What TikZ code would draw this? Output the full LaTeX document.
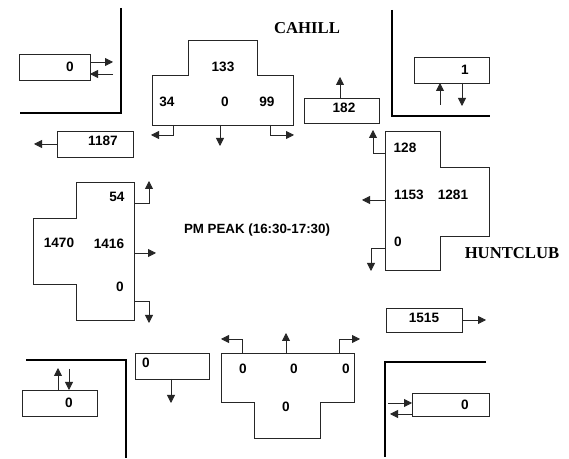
\documentclass[tikz,border=0pt]{standalone}
\usepackage{fontspec}
\setmainfont{Liberation Serif}
\setsansfont{Liberation Sans}
\usetikzlibrary{arrows.meta}
\tikzset{
  thin line/.style={line width=0.6pt, draw=black!85},
  corner/.style={line width=2.2pt, draw=black},
  arr/.style={thin line, -{Triangle[length=6pt,width=6pt]}},
  bx/.style 2 args={draw, thin line, rectangle, inner sep=0pt, outer sep=0pt,
     minimum width=#1*0.75pt, minimum height=#2*0.75pt},
  num/.style={font=\sffamily\bfseries\fontsize{10.2}{12}\selectfont, inner sep=0pt},
  street/.style={font=\rmfamily\bfseries\fontsize{12.5}{14}\selectfont, inner sep=0pt},
  shape line/.style={thin line}
}
\begin{document}
\begin{tikzpicture}[x=0.75pt,y=-0.75pt]
\useasboundingbox (0,0) rectangle (569,459);
\fill[white] (0,0) rectangle (569,459);

% corner curbs
\draw[corner] (121,8) -- (121,113) -- (20,113);
\draw[corner] (392,10) -- (392,116) -- (490,116);
\draw[corner] (26,360) -- (126,360) -- (126,458);
\draw[corner] (486,362) -- (385,362) -- (385,457);

% street labels
\node[street] (cahill) at (307,28) {CAHILL};
\node[street] (huntclub) at (512,253) {HUNTCLUB};
\node[num, font=\sffamily\bfseries\fontsize{10}{12}\selectfont] (peak) at (257,230) {PM PEAK (16:30-17:30)};

% ---- top approach (Cahill southbound)
\draw[shape line] (188,40) -- (257,40) -- (257,75) -- (293,75) -- (293,125) -- (152,125) -- (152,75) -- (188,75) -- cycle;
\node[num] (t133) at (223,67) {133};
\node[num] (t34) at (167,102) {34};
\node[num] (t0) at (225,102) {0};
\node[num] (t99) at (267,102) {99};
\coordinate (tL) at (173,125); \coordinate (tLe) at (151,135);
\coordinate (tC) at (220,125); \coordinate (tCe) at (220,146);
\coordinate (tR) at (270,125); \coordinate (tRe) at (294,135);
\draw[arr] (tL) |- (tLe);
\draw[arr] (tC) -- (tCe);
\draw[arr] (tR) |- (tRe);

% ---- right approach (Huntclub westbound)
\draw[shape line] (385,131) -- (440,131) -- (440,167) -- (489,167) -- (489,236) -- (440,236) -- (440,270) -- (385,270) -- cycle;
\node[num] (r128) at (405,148) {128};
\node[num] (r1153) at (409,195) {1153};
\node[num] (r1281) at (453,195) {1281};
\node[num] (r0) at (398,242) {0};
\coordinate (rT) at (385,153); \coordinate (rTe) at (373,130);
\coordinate (rM) at (385,200); \coordinate (rMe) at (362,200);
\coordinate (rB) at (385,248); \coordinate (rBe) at (371,271);
\draw[arr] (rT) -| (rTe);
\draw[arr] (rM) -- (rMe);
\draw[arr] (rB) -| (rBe);

% ---- left approach (Huntclub eastbound)
\draw[shape line] (76,182) -- (134,182) -- (134,320) -- (76,320) -- (76,284) -- (33,284) -- (33,218) -- (76,218) -- cycle;
\node[num] (l54) at (117,197) {54};
\node[num] (l1470) at (59,243) {1470};
\node[num] (l1416) at (109,244) {1416};
\node[num] (l0) at (120,287) {0};
\coordinate (lT) at (134,203); \coordinate (lTe) at (149,181);
\coordinate (lM) at (134,253); \coordinate (lMe) at (156,253);
\coordinate (lB) at (134,301); \coordinate (lBe) at (149,323);
\draw[arr] (lT) -| (lTe);
\draw[arr] (lM) -- (lMe);
\draw[arr] (lB) -| (lBe);

% ---- bottom approach (Cahill northbound)
\draw[shape line] (221,353) -- (354,353) -- (354,402) -- (320,402) -- (320,438) -- (254,438) -- (254,402) -- (221,402) -- cycle;
\node[num] (b0a) at (243,369) {0};
\node[num] (b0b) at (294,369) {0};
\node[num] (b0c) at (346,369) {0};
\node[num] (b0d) at (286,407) {0};
\coordinate (bL) at (242,353); \coordinate (bLe) at (221,339);
\coordinate (bC) at (286,353); \coordinate (bCe) at (286,333);
\coordinate (bR) at (339,353); \coordinate (bRe) at (360,339);
\draw[arr] (bL) |- (bLe);
\draw[arr] (bC) -- (bCe);
\draw[arr] (bR) |- (bRe);

% ---- small boxes
% top-left pedestrians
\node[bx={71}{26}] (btl) at (54.5,67) {};
\node[num] (btlt) at (70,67) {0};
\coordinate (btlA) at (113,62); \coordinate (btlB) at (113,74);
\draw[arr] (btl.east |- btlA) -- (btlA);
\draw[arr] (btlB) -- (btl.east |- btlB);

% 1187
\node[bx={76}{26}] (b1187) at (95,144) {};
\node[num] (b1187t) at (103,141) {1187};
\coordinate (b1187e) at (34,144);
\draw[arr] (b1187.west) -- (b1187e);

% 182
\node[bx={75}{25}] (b182) at (341.5,110.5) {};
\node[num] (b182t) at (344,108) {182};
\coordinate (b182e) at (340,77);
\draw[arr] (b182.north -| b182e) -- (b182e);

% top-right pedestrians
\node[bx={75}{26}] (btr) at (451.5,70) {};
\node[num] (btrt) at (465,70) {1};
\coordinate (btrA) at (440,105); \coordinate (btrB) at (462,106);
\draw[arr] (btrA) -- (btr.south -| btrA);
\draw[arr] (btr.south -| btrB) -- (btrB);

% 1515
\node[bx={76}{24}] (b1515) at (424,320) {};
\node[num] (b1515t) at (424,318) {1515};
\coordinate (b1515e) at (486,320);
\draw[arr] (b1515.east) -- (b1515e);

% bottom-left pedestrians
\node[bx={75}{26}] (bbl) at (59.5,403) {};
\node[num] (bblt) at (69,403) {0};
\coordinate (bblA) at (58,368); \coordinate (bblB) at (69,369);
\draw[arr] (bbl.north -| bblA) -- (bblA);
\draw[arr] (bblB) -- (bbl.north -| bblB);

% bottom exit 0
\node[bx={74}{26}] (bbx) at (172,366) {};
\node[num] (bbxt) at (146,363) {0};
\coordinate (bbxe) at (171,403);
\draw[arr] (bbx.south -| bbxe) -- (bbxe);

% bottom-right pedestrians
\node[bx={77}{23}] (bbr) at (450.5,404.5) {};
\node[num] (bbrt) at (465,405) {0};
\coordinate (bbrA) at (388,403); \coordinate (bbrB) at (390,414);
\draw[arr] (bbrA) -- (bbr.west |- bbrA);
\draw[arr] (bbr.west |- bbrB) -- (bbrB);
\end{tikzpicture}
\end{document}
